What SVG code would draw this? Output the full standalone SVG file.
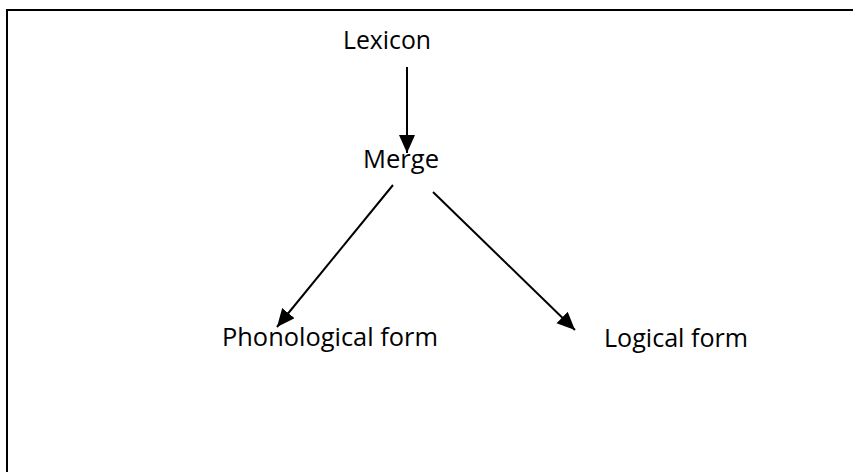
<svg xmlns="http://www.w3.org/2000/svg" width="853" height="472" viewBox="0 0 853 472">
<style>
.lbl{font-family:"Open Sans","Liberation Sans",sans-serif;font-size:25.5px;fill:#000}
.con{stroke:#000;stroke-width:2;fill:none}
</style>
<defs>
<marker id="ah" markerUnits="userSpaceOnUse" markerWidth="20" markerHeight="18" refX="18" refY="8" orient="auto">
<polygon points="0,0 18,8 0,16" fill="#000"/>
</marker>
</defs>
<rect x="0" y="0" width="853" height="472" fill="#fff"/>
<rect x="7" y="10" width="900" height="520" fill="none" stroke="#000" stroke-width="2"/>
<g id="connectors">
<line class="con" x1="407" y1="67" x2="407" y2="153" marker-end="url(#ah)"/>
<line class="con" x1="393" y1="185" x2="277" y2="327" marker-end="url(#ah)"/>
<line class="con" x1="433" y1="192" x2="575" y2="330" marker-end="url(#ah)"/>
</g>
<g id="lexicon"><text class="lbl" x="343" y="49" textLength="88" lengthAdjust="spacingAndGlyphs">Lexicon</text></g>
<g id="merge"><text class="lbl" x="363" y="168" textLength="76" lengthAdjust="spacingAndGlyphs">Merge</text></g>
<g id="phonological"><text class="lbl" x="222" y="346" textLength="216" lengthAdjust="spacingAndGlyphs">Phonological form</text></g>
<g id="logical"><text class="lbl" x="604" y="347" textLength="144" lengthAdjust="spacingAndGlyphs">Logical form</text></g>
</svg>
